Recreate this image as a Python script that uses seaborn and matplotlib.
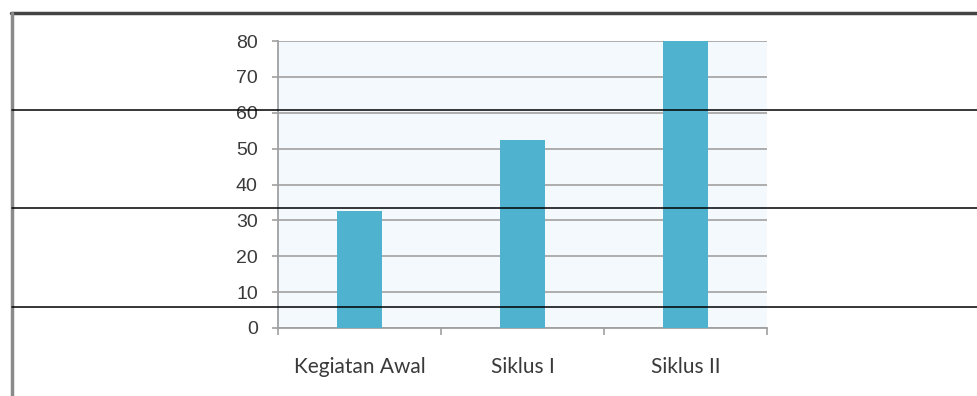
import matplotlib
matplotlib.use("Agg")
import matplotlib.pyplot as plt
import seaborn as sns
import pandas as pd
from matplotlib.lines import Line2D

categories = ["Kegiatan Awal", "Siklus I", "Siklus II"]
values = [32.7, 52.4, 80.0]
yticks = [0, 10, 20, 30, 40, 50, 60, 70, 80]

sns.set_style("white")
plt.rcParams["font.family"] = ["Liberation Sans", "DejaVu Sans"]

W, H = 977, 396
fig = plt.figure(figsize=(W / 100, H / 100), dpi=100)
ax = fig.add_axes([278 / W, (H - 328) / H, (767 - 278) / W, (328 - 41) / H])

df = pd.DataFrame({"cat": categories, "val": values})
sns.barplot(data=df, x="cat", y="val", color="#4FB3CF", saturation=1,
            width=0.28, ax=ax, zorder=3, linewidth=0)

ax.set_facecolor("#F3F9FD")
ax.set_xlim(-0.5, 2.5)
ax.set_ylim(0, 80)
ax.set_yticks(yticks)
ax.set_xlabel("")
ax.set_ylabel("")
ax.yaxis.grid(True, color="#A8A8A8", lw=1.3, zorder=1)
ax.set_axisbelow(True)
for s in ["top", "right"]:
    ax.spines[s].set_visible(False)
for s in ["left", "bottom"]:
    ax.spines[s].set_color("#A0A0A0")
    ax.spines[s].set_linewidth(1.3)

ax.tick_params(axis="y", length=4.5, width=1.2, color="#A0A0A0", pad=10,
               labelsize=14, labelcolor="#3A3A3A", left=True)
ax.set_xticks(range(len(categories)))
ax.set_xticklabels(categories, family=["Lato", "DejaVu Sans"], fontsize=15,
                   color="#3A3A3A")
ax.tick_params(axis="x", which="major", length=0, pad=21)
ax.set_xticks([-0.5, 0.5, 1.5, 2.5], minor=True)
ax.tick_params(axis="x", which="minor", length=5, width=1.2, color="#A0A0A0",
               bottom=True)

# page decoration: border and table rules
fig.add_artist(Line2D([11 / W, 1], [1 - 13 / H, 1 - 13 / H], color="#444444",
                      lw=2.5, transform=fig.transFigure))
fig.add_artist(Line2D([12 / W, 12 / W], [0, 1 - 13 / H], color="#8A8A8A",
                      lw=2.5, transform=fig.transFigure))
for yy in [110, 208, 307]:
    fig.add_artist(Line2D([12 / W, 1], [1 - yy / H, 1 - yy / H], color="black",
                          lw=1.1, transform=fig.transFigure, zorder=10))

fig.savefig("out.png", dpi=100)
